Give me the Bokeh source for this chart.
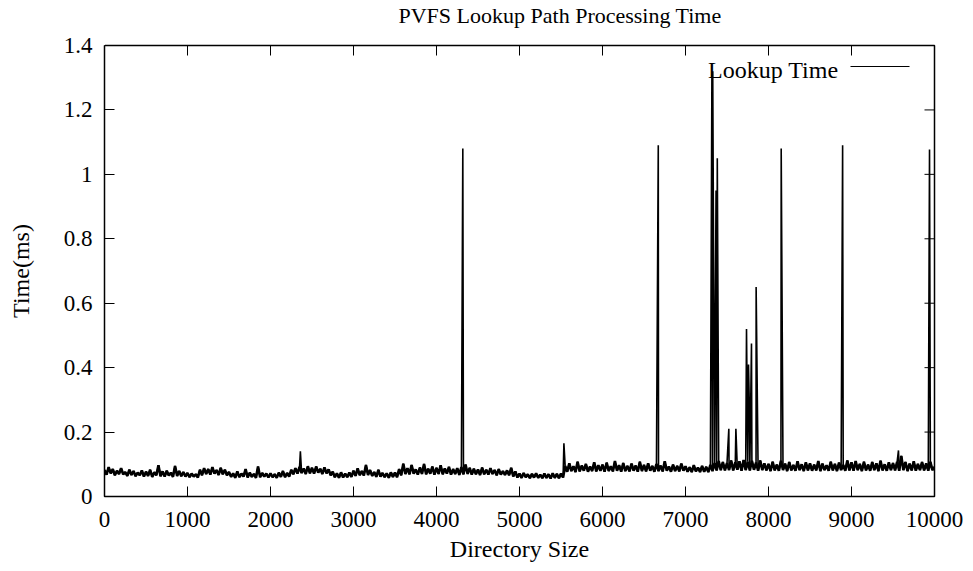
from bokeh.plotting import figure
from bokeh.models import (Range1d, FixedTicker, NumeralTickFormatter, Label, LinearAxis,
                          CustomJSTickFormatter)
from bokeh.embed import file_html
from bokeh.resources import INLINE

# ---- data ----
# baseline samples, one row per 500 units of directory size (step 25)
base_rows = [
    [.082,.068,.091,.072,.085,.066,.080,.070,.088,.069,.076,.064,.083,.067,.079,.063,.074,.066,.081,.062],
    [.077,.064,.083,.061,.075,.066,.097,.063,.078,.062,.080,.065,.074,.061,.095,.064,.079,.063,.076,.062],
    [.073,.060,.071,.062,.069,.059,.083,.066,.088,.070,.085,.068,.091,.071,.082,.067,.089,.069,.083,.066],
    [.076,.061,.072,.058,.078,.060,.071,.062,.085,.059,.074,.061,.070,.058,.093,.060,.073,.062,.071,.059],
    [.072,.060,.069,.058,.074,.061,.079,.060,.073,.062,.083,.069,.088,.071,.092,.073,.087,.070,.094,.072],
    [.089,.071,.093,.074,.086,.070,.090,.072,.084,.066,.077,.060,.072,.058,.075,.059,.071,.060,.074,.061],
    [.080,.064,.087,.066,.079,.065,.098,.067,.082,.064,.076,.061,.083,.062,.073,.060,.072,.058,.075,.061],
    [.074,.060,.085,.066,.102,.070,.088,.069,.098,.071,.084,.068,.090,.070,.101,.069,.086,.071,.093,.068],
    [.089,.070,.097,.069,.087,.071,.092,.068,.085,.070,.088,.067,.091,.069,.099,.070,.089,.068,.086,.069],
    [.084,.067,.090,.069,.083,.068,.088,.070,.082,.066,.085,.068,.079,.067,.081,.066,.089,.062,.078,.059],
    [.071,.058,.073,.060,.069,.057,.070,.059,.072,.058,.068,.057,.071,.058,.069,.056,.072,.058,.070,.057],
    [.071,.059,.095,.077,.103,.079,.094,.076,.108,.078,.096,.080,.101,.077,.093,.079,.106,.078,.097,.080],
    [.099,.077,.105,.079,.094,.078,.110,.080,.097,.077,.104,.079,.095,.078,.102,.080,.096,.077,.108,.079],
    [.098,.078,.103,.080,.095,.077,.101,.079,.096,.078,.109,.080,.093,.077,.099,.079,.095,.078,.102,.080],
    [.094,.077,.091,.076,.097,.078,.090,.076,.095,.077,.092,.076,.098,.079,.104,.081,.110,.082,.107,.081],
    [.104,.082,.112,.081,.106,.083,.109,.080,.113,.082,.108,.081,.111,.083,.105,.080,.112,.082,.103,.081],
    [.101,.079,.108,.081,.099,.080,.111,.082,.102,.079,.107,.081,.098,.080,.109,.082,.100,.079,.106,.081],
    [.103,.080,.099,.081,.110,.079,.102,.082,.097,.080,.108,.081,.101,.079,.105,.082,.098,.080,.112,.081],
    [.106,.080,.110,.082,.101,.079,.108,.081,.099,.080,.107,.082,.103,.079,.111,.081,.100,.080,.106,.082],
    [.104,.081,.108,.080,.126,.082,.107,.079,.102,.081,.109,.080,.101,.082,.107,.081,.103,.080,.108,.082],
]
base_last = .092          # value at directory size 10000
base_step = 25

# isolated spikes (directory size, time in ms)
spike_x = [2360, 4317, 5535, 6672, 7318, 7328, 7368, 7383, 7522, 7607,
           7735, 7759, 7771, 7795, 7851, 8153, 8893, 9566, 9940]
spike_y = [.140, 1.08, .165, 1.09, 1.31, 1.32, .950, 1.05, .210, .210,
           .520, .410, .260, .475, .650, 1.08, 1.09, .143, 1.077]

x_ticks = [0, 1000, 2000, 3000, 4000, 5000, 6000, 7000, 8000, 9000, 10000]
y_ticks = [0, 0.2, 0.4, 0.6, 0.8, 1.0, 1.2, 1.4]

title = "PVFS Lookup Path Processing Time"
series_name = "Lookup Time"

# ---- assemble series ----
base_x, base_y = [], []
for r, row in enumerate(base_rows):
    for i, v in enumerate(row):
        base_x.append(r * 500 + i * base_step)
        base_y.append(v)
base_x.append(10000)
base_y.append(base_last)
pts = sorted(list(zip(base_x, base_y)) + list(zip(spike_x, spike_y)))
xs = [p[0] for p in pts]
ys = [p[1] for p in pts]

FONT = "Liberation Serif"

X0, X1, Y0, Y1 = 0, 10000, 0, 1.4
FW, FH = 830, 451
ux = (X1 - X0) / FW      # data units per pixel
uy = (Y1 - Y0) / FH

p = figure(width=973, height=571, output_backend="svg", toolbar_location=None,
           x_range=Range1d(X0, X1), y_range=Range1d(Y0, Y1),
           min_border_left=104, min_border_right=39, min_border_top=45, min_border_bottom=75)

bx = p.below[0]
ly = p.left[0]

p.title.text = title
p.title.align = "left"
p.title.offset = 294
p.title.text_font = FONT
p.title.text_font_size = "22px"
p.title.text_font_style = "normal"
p.title.text_color = "black"
p.title.standoff = 0

p.grid.visible = False
p.outline_line_color = "black"
p.outline_line_width = 1.5
p.background_fill_color = "white"
p.border_fill_color = "white"

p.line(base_x, base_y, line_color="black", line_width=2.6)
p.line(xs, ys, line_color="black", line_width=1.6)

for ax in (bx, ly):
    ax.major_tick_in = 10
    ax.major_tick_out = 0
    ax.minor_tick_in = 0
    ax.minor_tick_out = 0
    ax.axis_line_color = "black"
    ax.major_tick_line_color = "black"
    ax.major_label_text_font = FONT
    ax.major_label_text_font_size = "23px"
    ax.major_label_text_color = "black"
    ax.axis_label_text_font = FONT
    ax.axis_label_text_font_size = "24px"
    ax.axis_label_text_font_style = "normal"
    ax.axis_label_text_color = "black"

bx.ticker = FixedTicker(ticks=x_ticks)
ly.ticker = FixedTicker(ticks=y_ticks)
ly.formatter = NumeralTickFormatter(format="0.[0]")
bx.axis_label = "Directory Size"
ly.axis_label = "Time(ms)"
bx.major_label_standoff = 15
ly.major_label_standoff = 12
bx.axis_label_standoff = 6
ly.axis_label_standoff = 27

# blank spacer between frame and title: one white outward tick, empty label
spacer = LinearAxis(ticker=FixedTicker(ticks=[X0]), major_tick_out=18, major_tick_in=0,
                    minor_tick_in=0, minor_tick_out=0, major_label_standoff=0,
                    formatter=CustomJSTickFormatter(code="return ''"),
                    major_label_text_font_size="0px",
                    axis_line_color=None, major_tick_line_color="white",
                    minor_tick_line_color=None)
p.add_layout(spacer, "above")

# mirrored tick marks on top and right (10 px long, inward)
inner_x = [t for t in x_ticks if X0 < t < X1]
inner_y = [t for t in y_ticks if Y0 < t < Y1]
p.segment(x0=inner_x, x1=inner_x, y0=[Y1] * len(inner_x), y1=[Y1 - 10 * uy] * len(inner_x),
          line_color="black", line_width=1)
p.segment(x0=[X1] * len(inner_y), x1=[X1 - 10 * ux] * len(inner_y), y0=inner_y, y1=inner_y,
          line_color="black", line_width=1)

# key
p.add_layout(Label(x=X0 + 734 * ux, y=Y1 - 24 * uy, text=series_name, text_align="right",
                   text_baseline="middle", text_font=FONT, text_font_size="24px",
                   text_color="black"))
p.segment(x0=[X0 + 746 * ux], x1=[X0 + 805 * ux], y0=[Y1 - 21 * uy], y1=[Y1 - 21 * uy],
          line_color="black", line_width=1)

open("out.html", "w").write(file_html(p, INLINE))
